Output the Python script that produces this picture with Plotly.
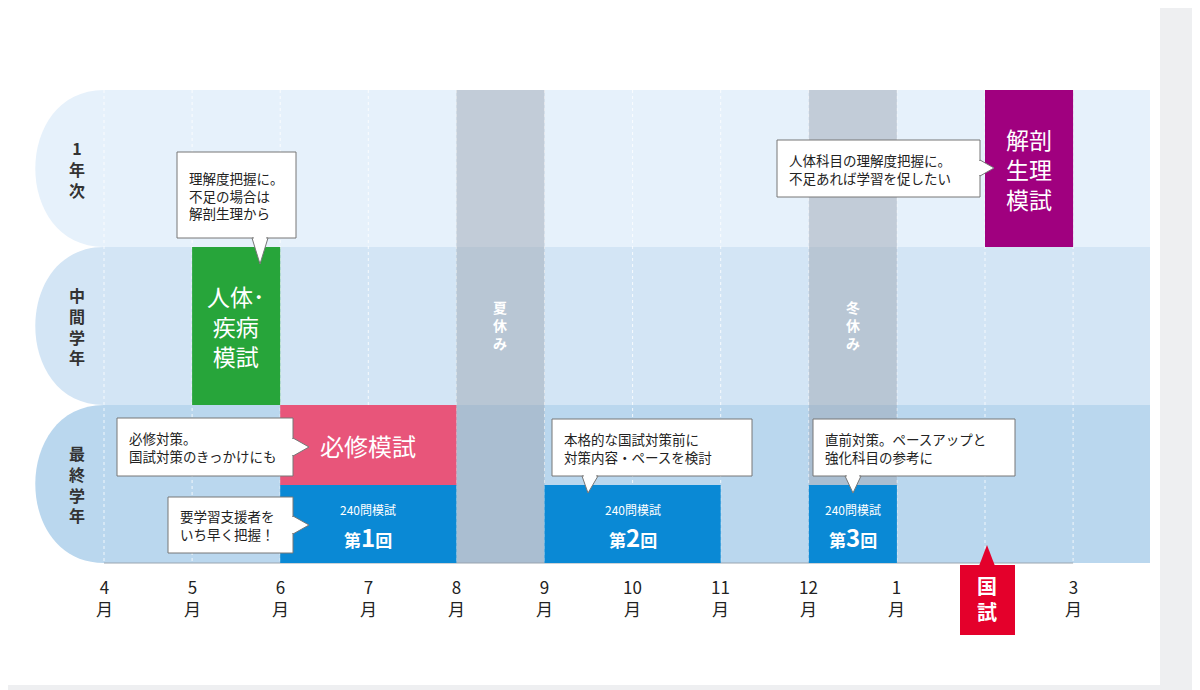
import plotly.graph_objects as go

FONT = "Noto Sans CJK JP"
months = ["4<br>月","5<br>月","6<br>月","7<br>月","8<br>月","9<br>月","10<br>月","11<br>月","12<br>月","1<br>月","","3<br>月"]
rows = ["1<br>年<br>次", "中<br>間<br>学<br>年", "最<br>終<br>学<br>年"]
row_y = [(90, 247), (247, 405), (405, 563)]
row_colors = ["#e6f1fb", "#d3e5f5", "#bad7ee"]
# bars: (start month idx, end month idx, y0, y1, color, label, size)
bars = [
    (1, 2, 247, 405, "#27a53a", "人体･<br>疾病<br>模試", 23),
    (2, 4, 405, 485, "#e8557a", "必修模試", 24),
    (10, 11, 90, 247, "#a0007f", "解剖<br>生理<br>模試", 23),
]
exams = [(2, 4, "1"), (5, 7, "2"), (8, 9, "3")]
exam_row = (485, 563)
breaks = [(4, 5, "夏<br>休<br>み"), (8, 9, "冬<br>休<br>み")]
callouts = [
    (177, 296, 152, 238, "理解度把握に。<br>不足の場合は<br>解剖生理から", [(252, 238), (268, 238), (260, 264)]),
    (117, 293, 418, 476, "必修対策。<br>国試対策のきっかけにも", [(293, 438), (293, 456), (309, 447)]),
    (168, 293, 497, 553, "要学習支援者を<br>いち早く把握！", [(293, 516), (293, 534), (309, 525)]),
    (552, 752, 419, 476, "本格的な国試対策前に<br>対策内容・ペースを検討", [(582, 476), (598, 476), (588, 493)]),
    (813, 1015, 419, 476, "直前対策。ペースアップと<br>強化科目の参考に", [(845, 476), (861, 476), (853, 493)]),
    (777, 980, 140, 197, "人体科目の理解度把握に。<br>不足あれば学習を促したい", [(980, 160), (980, 176), (994, 168)]),
]
X0, STEP = 104, 88.1

def m(px):
    return (px - X0) / STEP

shapes, anns = [], []
shapes.append(dict(type="rect", x0=m(5), x1=m(1160), y0=5, y1=685, fillcolor="white", line=dict(width=0), layer="below"))
for (y0, y1), c, lab in zip(row_y, row_colors, rows):
    shapes.append(dict(type="path", path=f"M 0,{y0} C -1.04,{y0} -1.04,{y1} 0,{y1} Z", fillcolor=c, line=dict(width=0), layer="below"))
    shapes.append(dict(type="rect", x0=0, x1=m(1150), y0=y0, y1=y1, fillcolor=c, line=dict(width=0), layer="below"))
    anns.append(dict(x=m(77), y=(y0 + y1) / 2, text=f"<b>{lab}</b>", showarrow=False, font=dict(size=16, color="#333", family=FONT)))
for i in range(12):
    shapes.append(dict(type="line", x0=i, x1=i, y0=90, y1=563, line=dict(color="rgba(255,255,255,0.8)", width=1, dash="dot"), layer="below"))
    if months[i]:
        anns.append(dict(x=i, y=597, text=months[i], showarrow=False, font=dict(size=17, color="#222", family=FONT)))
shapes.append(dict(type="line", x0=0, x1=11, y0=563, y1=563, line=dict(color="#9aa5b0", width=1)))
for a, b, t in breaks:
    shapes.append(dict(type="rect", x0=a, x1=b, y0=90, y1=563, fillcolor="rgba(150,160,172,0.45)", line=dict(width=0)))
    anns.append(dict(x=(a + b) / 2, y=325, text=f"<b>{t}</b>", showarrow=False, font=dict(size=14, color="white", family=FONT)))
for a, b, y0, y1, c, t, s in bars:
    shapes.append(dict(type="rect", x0=a, x1=b, y0=y0, y1=y1, fillcolor=c, line=dict(width=0)))
    anns.append(dict(x=(a + b) / 2, y=(y0 + y1) / 2, text=t, showarrow=False, font=dict(size=s, color="white", family=FONT)))
for a, b, n in exams:
    y0, y1 = exam_row
    shapes.append(dict(type="rect", x0=a, x1=b, y0=y0, y1=y1, fillcolor="#0a89d5", line=dict(width=0)))
    anns.append(dict(x=(a + b) / 2, y=y0 + 24, text="240問模試", showarrow=False, font=dict(size=12, color="white", family=FONT)))
    anns.append(dict(x=(a + b) / 2, y=y0 + 51, showarrow=False, font=dict(size=17, color="white", family=FONT),
                     text=f"<b>第<span style='font-size:24px'>{n}</span>回</b>"))
shapes.append(dict(type="rect", x0=m(960), x1=m(1015), y0=565, y1=635, fillcolor="#e4002b", line=dict(width=0)))
shapes.append(dict(type="path", path=f"M {m(979)},566 L {m(995)},566 L {m(987)},545 Z", fillcolor="#e4002b", line=dict(width=0)))
anns.append(dict(x=m(987), y=598, text="<b>国<br>試</b>", showarrow=False, font=dict(size=20, color="white", family=FONT)))
for x0, x1, y0, y1, t, tail in callouts:
    shapes.append(dict(type="rect", x0=m(x0), x1=m(x1), y0=y0, y1=y1, fillcolor="white", line=dict(color="#777", width=1)))
    p = " L ".join(f"{m(px)},{py}" for px, py in tail)
    shapes.append(dict(type="path", path=f"M {p} Z", fillcolor="white", line=dict(color="#777", width=1)))
    (ax, ay), (bx, by) = tail[0], tail[1]
    shapes.append(dict(type="line", x0=m(ax) + (0.02 if ay == by else 0), x1=m(bx) - (0.02 if ay == by else 0),
                       y0=ay + (0 if ay == by else 1), y1=by - (0 if ay == by else 1), line=dict(color="white", width=2)))
    anns.append(dict(x=m(x0 + 10), y=(y0 + y1) / 2, xanchor="left", align="left", text=t, showarrow=False,
                     font=dict(size=13.5, color="#222", family=FONT)))

fig = go.Figure()
fig.update_layout(width=1200, height=690, margin=dict(l=0, r=0, t=0, b=0),
                  paper_bgcolor="#eeeff1", plot_bgcolor="rgba(0,0,0,0)",
                  xaxis=dict(range=[m(8), m(1208)], visible=False),
                  yaxis=dict(range=[698, 8], visible=False),
                  shapes=shapes, annotations=anns, showlegend=False)
fig.write_html("out.html")
